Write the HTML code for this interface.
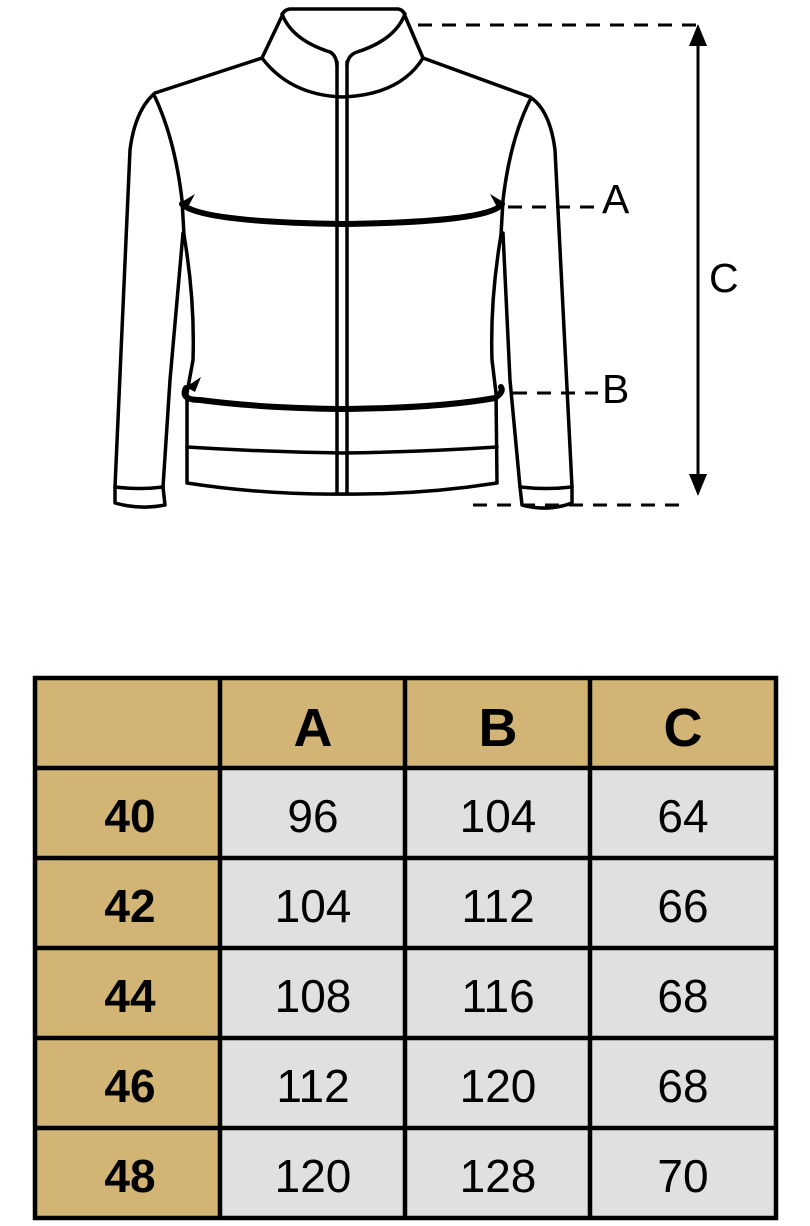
<!DOCTYPE html>
<html><head><meta charset="utf-8"><style>
html,body{margin:0;padding:0;background:#fff;width:810px;height:1226px;overflow:hidden}
svg{display:block}
</style></head><body>
<svg width="810" height="1226" viewBox="0 0 810 1226" xmlns="http://www.w3.org/2000/svg">
<g fill="none" stroke="#000" stroke-width="3.5" stroke-linecap="round" stroke-linejoin="round">
<!-- collar -->
<path d="M262,58 L282,16 Q283,10 290,9 L398,9 Q404,10 405,16 L423,58"/>
<path d="M282,14 Q292,40 330,52 Q336,55 337,65"/>
<path d="M405,14 Q395,40 357,52 Q348,55 347,65"/>
<path d="M262,58 Q290,95 342,97 Q400,95 423,58"/>
<!-- shoulders -->
<path d="M262,58 L155,93"/>
<path d="M423,58 L530,97"/>
<!-- left sleeve -->
<path d="M155,93 Q135,110 130,150 L115,487 L115,503 Q140,510 165,505 L163,487 L170,380 L183,233"/>
<path d="M115,487 Q140,490 163,487"/>
<path d="M155,97 Q175,140 182,200 L184,235"/>
<!-- right sleeve -->
<path d="M530,97 Q550,110 555,150 L572,487 L572,503 Q548,512 522,505 L520,487 L510,380 L503,233"/>
<path d="M520,487 Q546,490 572,487"/>
<path d="M530,100 Q510,140 503,200 L501,235"/>
<!-- body sides -->
<path d="M184,235 Q195,300 193,360 L187,393 L187,483 Q265,495 343,494 Q420,495 497,483 L496,393 L492,360 Q490,300 501,235"/>
<path d="M187,447 Q265,452 343,453 Q420,452 497,447"/>
<!-- zipper -->
<path d="M337,62 L337,493 M347,62 L347,493"/>
</g>
<!-- measurement bands -->
<g fill="none" stroke="#000" stroke-width="6" stroke-linecap="round">
<path d="M182,204 Q200,222 343,224 Q490,222 502,204"/>
<path d="M186,388 Q180,400 200,400 Q260,408 343,409 Q440,408 495,398 Q504,392 501,387"/>
</g>
<g fill="#000">
<path d="M180,203 L195,194 L188,207 Z"/>
<path d="M505,203 L490,194 L497,207 Z"/>
<path d="M186,387 L201,377 L195,392 Z"/>
</g>
<!-- dashed lines -->
<g stroke="#000" stroke-width="3" stroke-dasharray="14,10">
<line x1="418" y1="25" x2="700" y2="25"/>
<line x1="508" y1="207" x2="598" y2="207"/>
<line x1="513" y1="393" x2="598" y2="393"/>
<line x1="473" y1="505" x2="680" y2="505"/>
</g>
<line x1="698" y1="35" x2="698" y2="485" stroke="#000" stroke-width="3"/>
<path d="M698,24 L689,46 L707,46 Z M698,496 L689,474 L707,474 Z" fill="#000"/>
<g font-family="Liberation Sans, sans-serif" font-size="41" fill="#000">
<text x="602" y="213">A</text>
<text x="602" y="403">B</text>
<text x="709" y="292">C</text>
</g>
<!-- table -->
<rect x="35" y="678" width="741" height="540" fill="#e0e0e0"/>
<rect x="35" y="678" width="185" height="540" fill="#d2b474"/>
<rect x="35" y="678" width="741" height="90" fill="#d2b474"/>
<g stroke="#000" stroke-width="4.5">
<rect x="35" y="678" width="741" height="540" fill="none"/>
<line x1="220" y1="678" x2="220" y2="1218"/>
<line x1="405" y1="678" x2="405" y2="1218"/>
<line x1="590" y1="678" x2="590" y2="1218"/>
<line x1="35" y1="768" x2="776" y2="768"/>
<line x1="35" y1="858" x2="776" y2="858"/>
<line x1="35" y1="948" x2="776" y2="948"/>
<line x1="35" y1="1038" x2="776" y2="1038"/>
<line x1="35" y1="1128" x2="776" y2="1128"/>
</g>
<g font-family="Liberation Sans, sans-serif" font-size="46" fill="#000" text-anchor="middle">
<g font-weight="bold">
<g font-size="54"><text x="313" y="746">A</text><text x="498" y="746">B</text><text x="683" y="746">C</text></g>
<text x="130" y="832">40</text><text x="130" y="922">42</text><text x="130" y="1012">44</text><text x="130" y="1102">46</text><text x="130" y="1192">48</text>
</g>
<text x="313" y="832">96</text><text x="498" y="832">104</text><text x="683" y="832">64</text>
<text x="313" y="922">104</text><text x="498" y="922">112</text><text x="683" y="922">66</text>
<text x="313" y="1012">108</text><text x="498" y="1012">116</text><text x="683" y="1012">68</text>
<text x="313" y="1102">112</text><text x="498" y="1102">120</text><text x="683" y="1102">68</text>
<text x="313" y="1192">120</text><text x="498" y="1192">128</text><text x="683" y="1192">70</text>
</g>
</svg>
</body></html>
